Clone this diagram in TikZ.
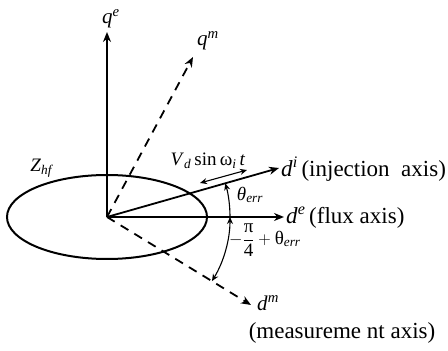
\documentclass[tikz,border=0pt]{standalone}
\usepackage{fontspec}
\usepackage{amsmath}
\setmainfont{Liberation Serif}
\usetikzlibrary{arrows.meta}
\newcommand{\supi}[2]{\textit{#1}\textsuperscript{\textit{#2}}}
\begin{document}
\begin{tikzpicture}[x=1pt,y=1pt,
  axis/.style={line width=1.8pt,-{Stealth[length=10pt,width=8pt]}},
  dax/.style={axis,dash pattern=on 9pt off 7pt},
  anga/.style={line width=1.1pt,-{Stealth[length=7pt,width=6pt]}},
  angb/.style={line width=1.1pt,{Stealth[length=7pt,width=6pt]}-{Stealth[length=7pt,width=6pt]}},
  lbl/.style={inner sep=0pt,font=\fontsize{21}{24}\selectfont},
  sml/.style={inner sep=0pt,font=\fontsize{19}{22}\selectfont},
  txt/.style={inner sep=0pt,font=\fontsize{23}{26}\selectfont}]
\useasboundingbox (0,0) rectangle (448,351);
\coordinate (O) at (107,134);
\coordinate (qe) at (107,319);
\coordinate (qm) at (193,294);
\coordinate (di) at (279,183);
\coordinate (de) at (284,134);
\coordinate (dm) at (251,46);
\coordinate (v1) at (200,168);
\coordinate (v2) at (247,181);
\draw[line width=2pt] (O) ellipse[x radius=100,y radius=42];
\draw[axis] (O) -- (qe);
\draw[dax] (O) -- (qm);
\draw[axis] (O) -- (di);
\draw[axis] (O) -- (de);
\draw[dax] (O) -- (dm);
\draw[anga] ([shift={(0:123)}]O) arc[start angle=0,end angle=15.9,radius=123];
\draw[angb] ([shift={(-31.4:123)}]O) arc[start angle=-31.4,end angle=0,radius=123];
\draw[line width=1.1pt,{Stealth[length=7pt,width=6pt]}-{Stealth[length=7pt,width=6pt]}] (v1) -- (v2);
\node[lbl] (Lqe) at (111,332) {\supi{q}{e}};
\node[lbl] (Lqm) at (208,310) {\supi{q}{m}};
\node[sml] (Lz) at (42,183) {\textit{Z}\textsubscript{\textit{hf}}};
\node[sml] (Lv) at (208,190) {\textit{V}\textsubscript{\textit{d}}\,sin\,ω\textsubscript{\textit{i}}\,\textit{t}};
\node[txt,anchor=west] (Ldi) at (281,182) {\supi{d}{i}\,(injection\ \ axis)};
\node[txt,anchor=west] (Lde) at (286,133) {\supi{d}{e}\,(flux axis)};
\node[sml] (Lth) at (250,156) {\textit{θ}\textsubscript{\textit{err}}};
\node[sml,anchor=west] (Lpi) at (229,111) {$-\dfrac{\text{π}}{\text{4}}+\text{θ}_{\textit{err}}$};
\node[lbl,anchor=west] (Ldm) at (257,48) {\supi{d}{m}};
\node[txt] (Lmeas) at (342,18) {(measureme nt axis)};
\end{tikzpicture}
\end{document}
